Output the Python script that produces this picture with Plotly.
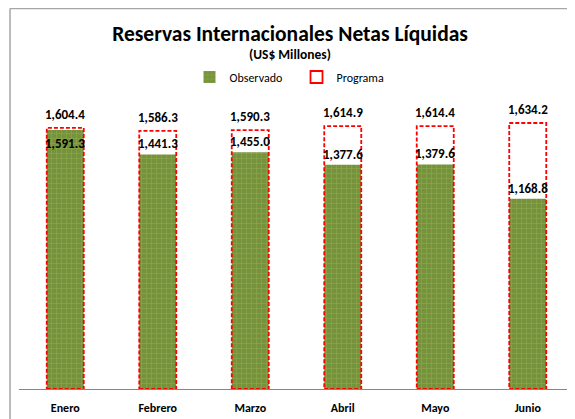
import plotly.graph_objects as go

months = ["Enero", "Febrero", "Marzo", "Abril", "Mayo", "Junio"]
observado = [1591.3, 1441.3, 1455.0, 1377.6, 1379.6, 1168.8]
programa = [1604.4, 1586.3, 1590.3, 1614.9, 1614.4, 1634.2]

FONT = "Carlito, Lato, Calibri, sans-serif"
BAR_W = 0.4

fig = go.Figure()

fig.add_trace(go.Bar(
    x=months, y=observado, name="Observado", width=BAR_W,
    marker=dict(color="#76923C", line=dict(width=0),
                pattern=dict(shape="+", fgcolor="#9BBB59", bgcolor="#76923C",
                             size=5, solidity=0.25)),
    hoverinfo="skip",
))

shapes = []
for i, v in enumerate(programa):
    shapes.append(dict(
        type="rect", xref="x", yref="y",
        x0=i - BAR_W / 2, x1=i + BAR_W / 2, y0=0, y1=v,
        line=dict(color="#FF0000", width=1.8, dash="4px,2px"),
        fillcolor="rgba(0,0,0,0)", layer="above",
        showlegend=(i == 0), name="Programa", legendrank=2000,
    ))

# frame lines
shapes.append(dict(type="line", xref="paper", yref="paper",
                   x0=-0.0162, x1=-0.0162, y0=-0.2, y1=1.2986,
                   line=dict(color="#A6A6A6", width=1.5)))
shapes.append(dict(type="line", xref="paper", yref="paper",
                   x0=-0.0162, x1=1.1, y0=1.2986, y1=1.2986,
                   line=dict(color="#A6A6A6", width=1.5)))

annotations = []
for m, v in zip(months, programa):
    annotations.append(dict(x=m, y=v, xref="x", yref="y", text=f"{v:,.1f}",
                            showarrow=False, yanchor="bottom", yshift=4,
                            font=dict(family=FONT, size=13, color="black", weight="bold")))
for m, o, p in zip(months, observado, programa):
    inside = (p - o) < 60
    annotations.append(dict(x=m, y=o, xref="x", yref="y", text=f"{o:,.1f}",
                            showarrow=False,
                            yanchor="top" if inside else "bottom",
                            yshift=-4 if inside else 1,
                            font=dict(family=FONT, size=13, color="black", weight="bold")))
annotations.append(dict(text="(US$ Millones)", xref="paper", yref="paper",
                        x=0.488, y=1.143, showarrow=False, yanchor="middle",
                        font=dict(family=FONT, size=13.5, color="black", weight="bold")))

fig.update_layout(
    width=567, height=411,
    margin=dict(l=11, r=1, t=88, b=30),
    paper_bgcolor="white", plot_bgcolor="white",
    title=dict(text="Reservas Internacionales Netas Líquidas",
               x=(290 - 8) / 567, xanchor="center", y=1 - 25 / 411, yanchor="middle",
               xref="container", yref="container",
               font=dict(family=FONT, size=21.5, color="black", weight="bold")),
    showlegend=True,
    legend=dict(orientation="h", x=0.5, xanchor="center", y=1 - 69 / 411,
                yanchor="middle", yref="container",
                font=dict(family=FONT, size=12, color="black"),
                itemwidth=30, tracegroupgap=0, entrywidth=62),
    barmode="overlay",
    xaxis=dict(type="category", showline=True, linecolor="#868686", linewidth=1,
               ticks="", showgrid=False, range=[-0.5, 5.5], ticklabelstandoff=8,
               tickfont=dict(family=FONT, size=12, color="black", weight="bold")),
    yaxis=dict(visible=False, range=[0, 1800], showgrid=False, zeroline=False),
    shapes=shapes,
    annotations=annotations,
)

fig.write_html("out.html")
